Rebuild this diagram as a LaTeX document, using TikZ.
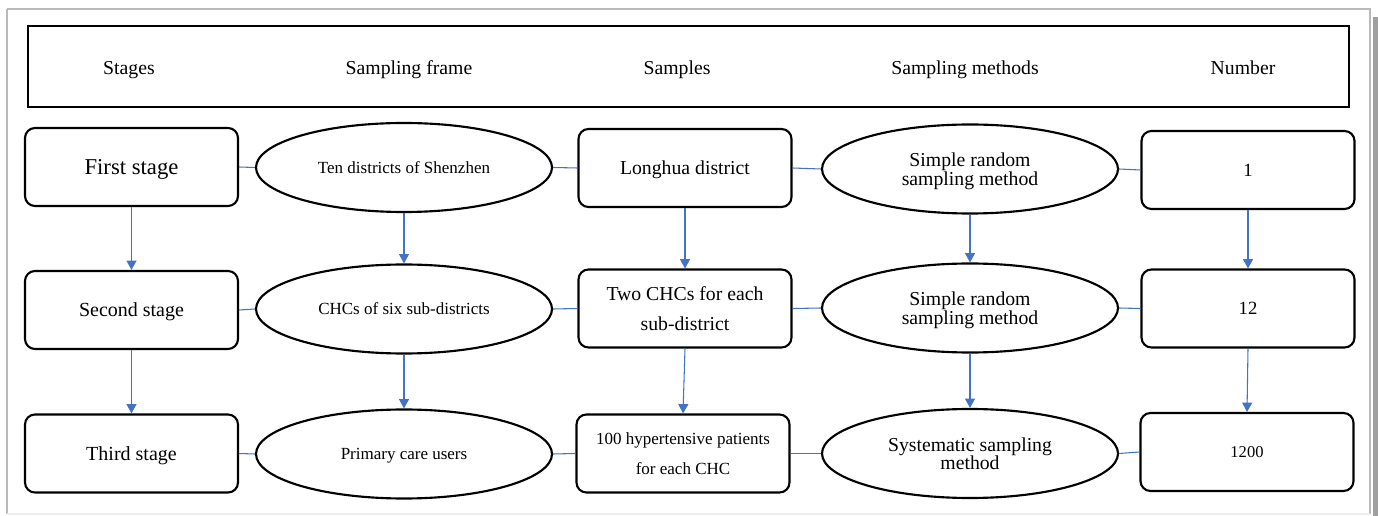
\documentclass[tikz,border=0pt]{standalone}
\usepackage{fontspec}
\setmainfont{Liberation Serif}
\usetikzlibrary{shapes.geometric,arrows.meta}
\definecolor{lnblue}{HTML}{4472C4}
\tikzset{
  px/.style={x=0.75pt,y=-0.75pt},
  rbox/.style={draw=black,line width=1.6pt,rounded corners=7.5pt,minimum width={213*0.75pt},minimum height={78*0.75pt},inner sep=0pt,align=center,text depth=0pt},
  ellip/.style={draw=black,line width=1.6pt,ellipse,minimum width={296*0.75pt},minimum height={89*0.75pt},inner sep=0pt,align=center,text depth=0pt},
  hdr/.style={font=\fontsize{14.8}{18}\selectfont,inner sep=0pt,text depth=0pt},
  link/.style={draw=lnblue,line width=0.8pt},
  varrow/.style={draw=lnblue,line width=0.8pt,-{Triangle[width=7.5pt,length=7pt]}},
  fbig/.style={font=\fontsize{17}{20}\selectfont},
  fmid/.style={font=\fontsize{14.8}{22.5}\selectfont},
  ftight/.style={font=\fontsize{14.8}{13.8}\selectfont},
  fsmall/.style={font=\fontsize{12.75}{22.5}\selectfont},
}
\begin{document}
\begin{tikzpicture}[px]
\useasboundingbox (0,0) rectangle (1378,516);
% outer frame and shadow
\fill[gray!75] (1373,17) rectangle (1378,516);
\draw[gray!55,line width=2pt] (7,9) -- (1370,9) -- (1370,514);
\draw[gray!55,line width=2.2pt] (7,9) -- (7,514);
\draw[gray!15,line width=1pt] (7,514) -- (1370,514);
% header
\node[draw=black,line width=1.6pt,minimum width={1321*0.75pt},minimum height={81*0.75pt},inner sep=0pt] (header) at (688.5,66.5) {};
\node[hdr] (h1) at (129,68) {Stages};
\node[hdr] (h2) at (409,68) {Sampling frame};
\node[hdr] (h3) at (677,68) {Samples};
\node[hdr] (h4) at (965,68) {Sampling methods};
\node[hdr] (h5) at (1243,68) {Number};
% row 1
\node[rbox,fbig] (s1) at (131.5,167) {First stage};
\node[ellip,fsmall] (f1) at (404,167.5) {Ten districts of Shenzhen};
\node[rbox,fmid] (p1) at (685,168) {Longhua district};
\node[ellip,ftight] (m1) at (970,169) {Simple random\\sampling method};
\node[rbox,font=\fontsize{14}{17}\selectfont] (n1) at (1248,170) {1};
% row 2
\node[rbox,font=\fontsize{15}{18}\selectfont] (s2) at (131.5,310) {Second stage};
\node[ellip,fsmall] (f2) at (404,309) {CHCs of six sub-districts};
\node[rbox,fmid] (p2) at (685,308.5) {Two CHCs for each\\sub-district};
\node[ellip,ftight] (m2) at (970,308) {Simple random\\sampling method};
\node[rbox,font=\fontsize{14}{17}\selectfont] (n2) at (1248,308.5) {12};
% row 3
\node[rbox,font=\fontsize{15}{18}\selectfont] (s3) at (131.5,453.5) {Third stage};
\node[ellip,fsmall] (f3) at (404,454) {Primary care users};
\node[rbox,fsmall] (p3) at (683,453.5) {100 hypertensive patients\\for each CHC};
\node[ellip,ftight] (m3) at (970,453.5) {Systematic sampling\\method};
\node[rbox,font=\fontsize{12.4}{15}\selectfont] (n3) at (1247,452) {1200};
% horizontal links
\foreach \r in {1,2,3}{
  \draw[link] (s\r.east) -- (f\r.west);
  \draw[link] (f\r.east) -- (p\r.west);
  \draw[link] (p\r.east) -- (m\r.west);
  \draw[link] (m\r.east) -- (n\r.west);
}
% vertical arrows
\foreach \c in {s,f,p,m,n}{
  \draw[varrow] (\c1.south) -- (\c2.north);
  \draw[varrow] (\c2.south) -- (\c3.north);
}
\end{tikzpicture}
\end{document}
